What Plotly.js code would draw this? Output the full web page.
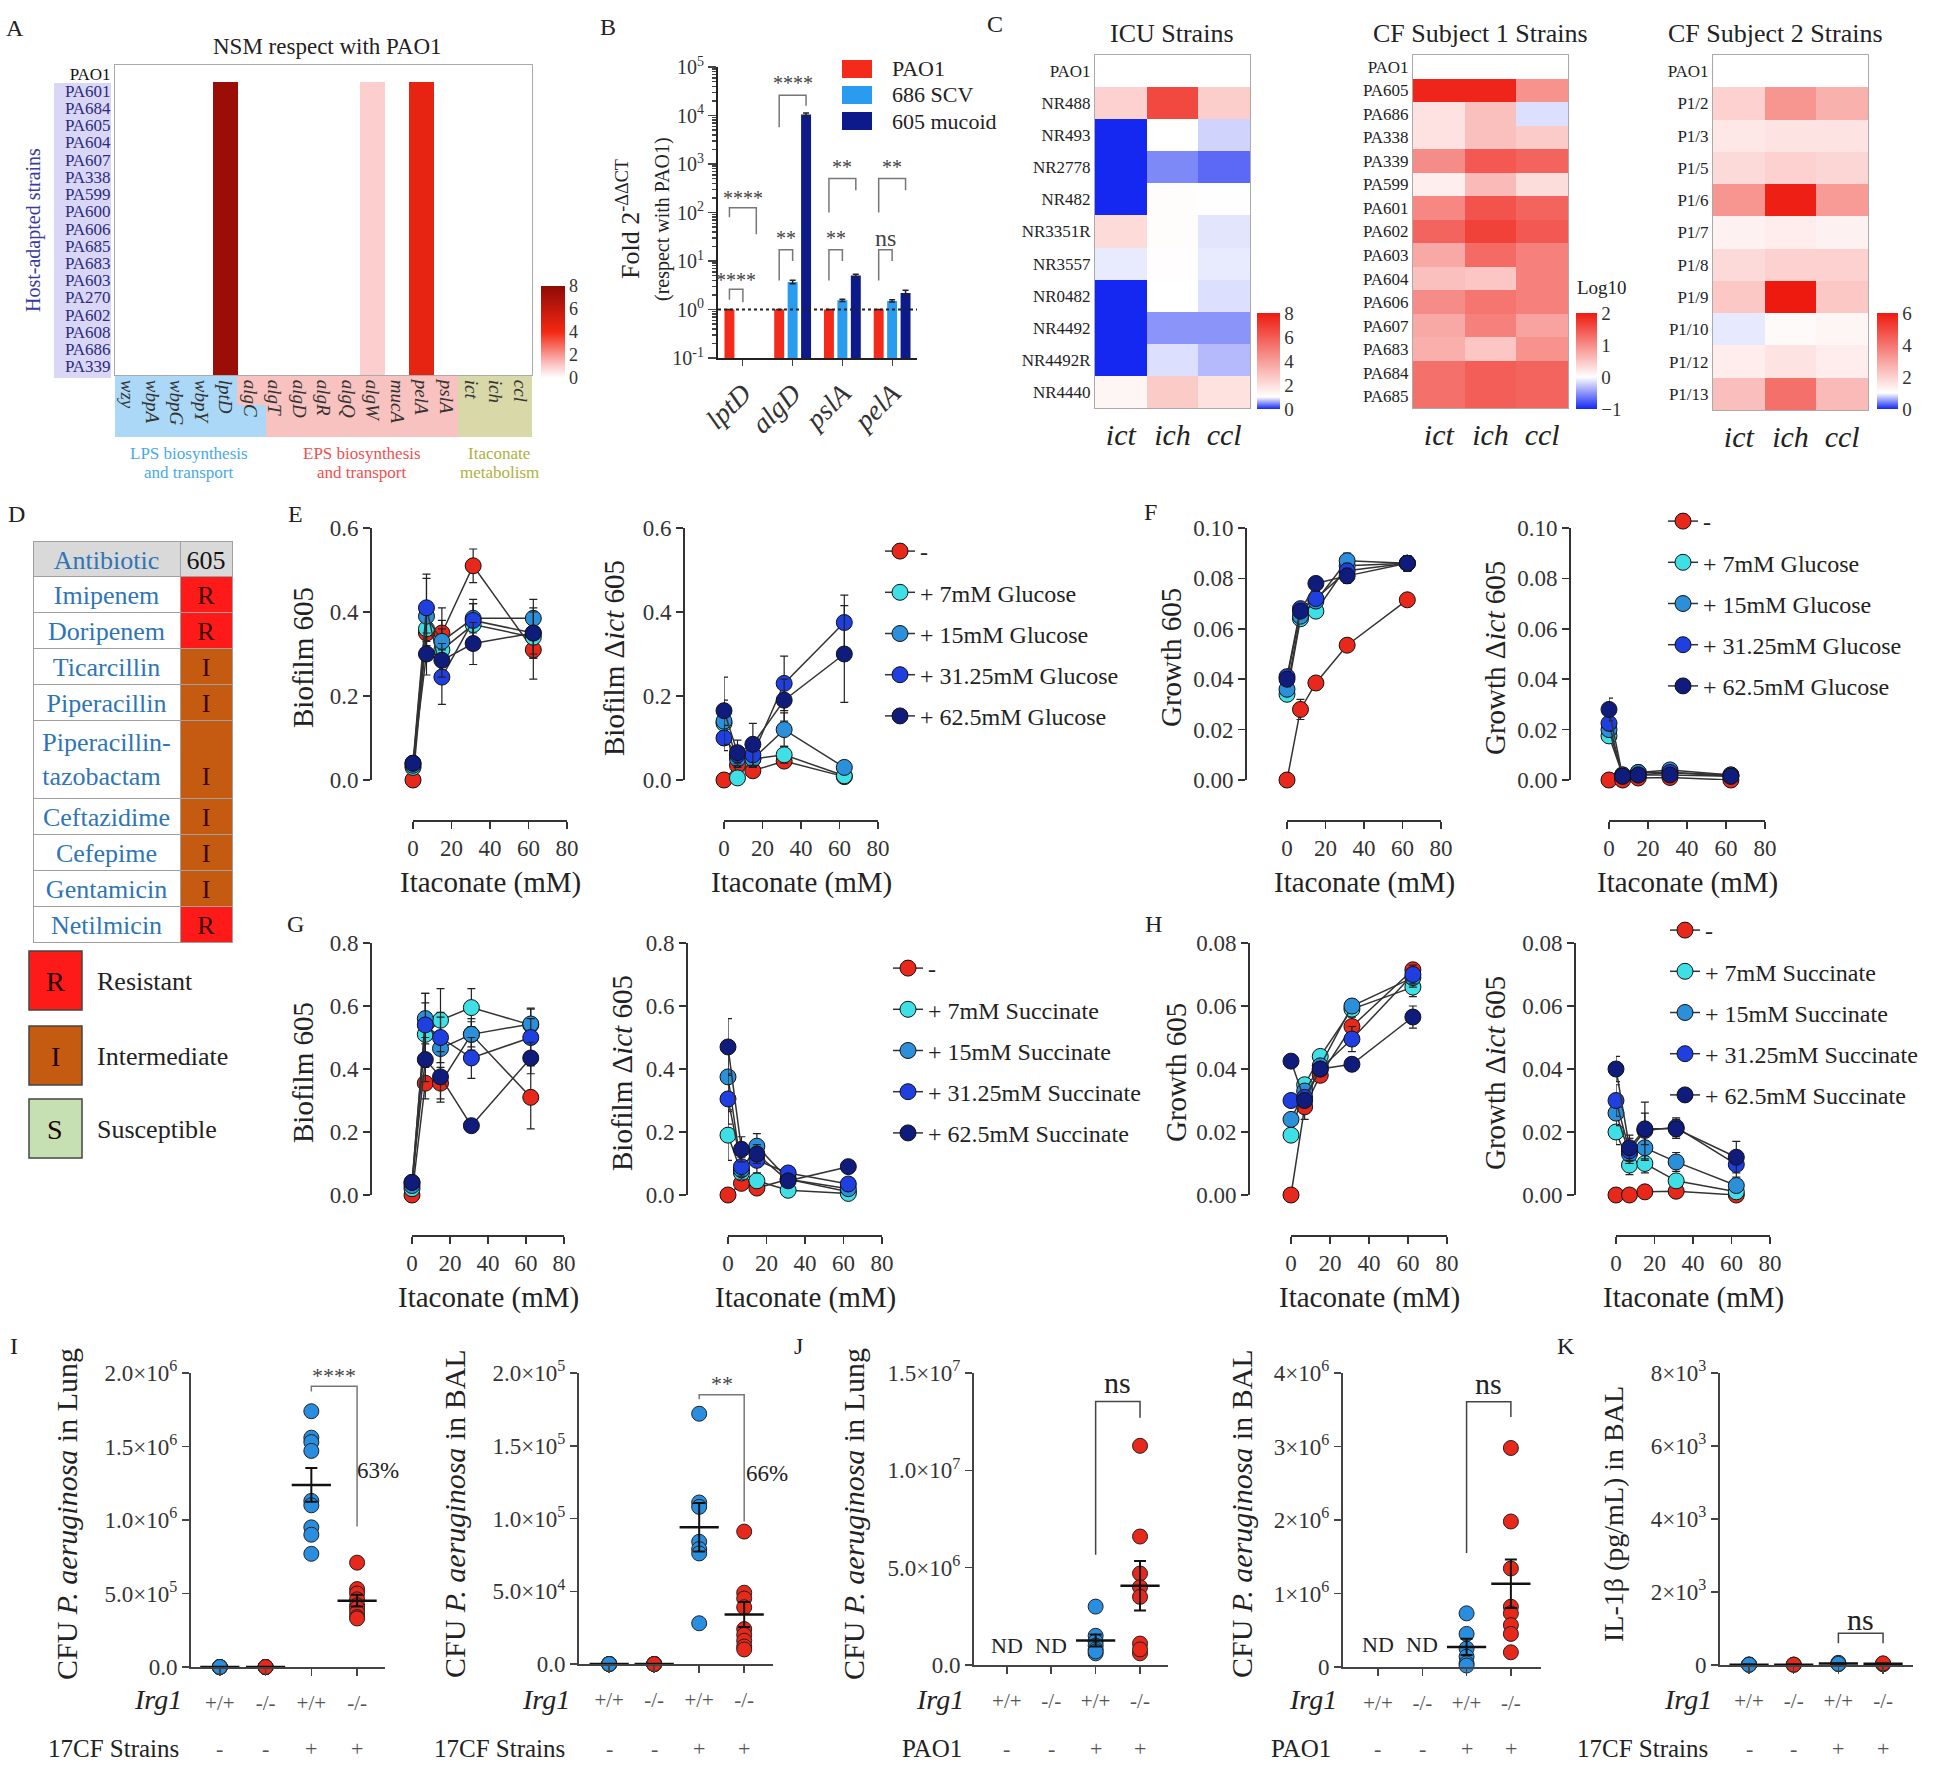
<!DOCTYPE html>
<html>
<head>
<meta charset="utf-8">
<title>Figure</title>
<script src="https://cdn.plot.ly/plotly-3.0.1.min.js"></script>
<style>
  body { margin: 0; background: #fff; }
  #fig { width: 1946px; height: 1769px; }
</style>
</head>
<body>
<div id="fig"></div>
<script>
// page is placed in pixels, converted to paper coords
var W = 1946, H = 1769;
var FONT = '"Liberation Serif", "Times New Roman", serif';
function fx(v) { return v / W; }
function fy(v) { return 1 - v / H; }

// ---------- A: NSM heatmap ----------
var aStrains = ['PAO1','PA601','PA684','PA605','PA604','PA607','PA338','PA599','PA600','PA606',
                'PA685','PA683','PA603','PA270','PA602','PA608','PA686','PA339'];
var aGenes = ['wzy','wbpA','wbpG','wbpY','lptD','algC','algT','algD','algR','algQ','algW',
              'mucA','pelA','pslA','ict','ich','ccl'];
var aNsm = [
  [0,0,0,0,0,  0,0,0,0,0,0,0,0,  0,0,0,0],
  [0,0,0,0,7.5,0,0,0,0,0,1,0,4.5,0,0,0,0],
  [0,0,0,0,7.5,0,0,0,0,0,1,0,4.5,0,0,0,0],
  [0,0,0,0,7.5,0,0,0,0,0,1,0,4.5,0,0,0,0],
  [0,0,0,0,7.5,0,0,0,0,0,1,0,4.5,0,0,0,0],
  [0,0,0,0,7.5,0,0,0,0,0,1,0,4.5,0,0,0,0],
  [0,0,0,0,7.5,0,0,0,0,0,1,0,4.5,0,0,0,0],
  [0,0,0,0,7.5,0,0,0,0,0,1,0,4.5,0,0,0,0],
  [0,0,0,0,7.5,0,0,0,0,0,1,0,4.5,0,0,0,0],
  [0,0,0,0,7.5,0,0,0,0,0,1,0,4.5,0,0,0,0],
  [0,0,0,0,7.5,0,0,0,0,0,1,0,4.5,0,0,0,0],
  [0,0,0,0,7.5,0,0,0,0,0,1,0,4.5,0,0,0,0],
  [0,0,0,0,7.5,0,0,0,0,0,1,0,4.5,0,0,0,0],
  [0,0,0,0,7.5,0,0,0,0,0,1,0,4.5,0,0,0,0],
  [0,0,0,0,7.5,0,0,0,0,0,1,0,4.5,0,0,0,0],
  [0,0,0,0,7.5,0,0,0,0,0,1,0,4.5,0,0,0,0],
  [0,0,0,0,7.5,0,0,0,0,0,1,0,4.5,0,0,0,0],
  [0,0,0,0,7.5,0,0,0,0,0,1,0,4.5,0,0,0,0]
];

// ---------- B: qPCR fold change ----------
var bGenes = ['lptD','algD','pslA','pelA'];
var bPAO1 = [1, 1, 1, 1];
var bSCV = [null, 3.7, 1.55, 1.5];
var bSCVErr = [0, 0.3, 0.08, 0.08];
var bMucoid = [null, 10500, 5.0, 2.2];
var bMucoidErr = [0, 700, 0.3, 0.3];

// ---------- C: itaconate genes ----------
var cGenes = ['ict','ich','ccl'];
var icuStrains = ['PAO1','NR488','NR493','NR2778','NR482','NR3351R','NR3557','NR0482','NR4492','NR4492R','NR4440'];
var icuIct = [1, 2.4, 0, 0, 0, 2.1, 0.9, 0, 0, 0, 1.3];
var icuIch = [1, 6.6, 1.0, 0.45, 1.1, 1.1, 1.05, 1.0, 0.5, 0.85, 2.6];
var icuCcl = [1, 2.5, 0.8, 0.3, 1.02, 0.88, 0.9, 0.85, 0.5, 0.68, 1.9];
var cf1Strains = ['PAO1','PA605','PA686','PA338','PA339','PA599','PA601','PA602','PA603','PA604','PA606','PA607','PA683','PA684','PA685'];
var cf1Ict = [0, 1.9, 0.25, 0.25, 1.0, 0.15, 1.05, 1.35, 0.75, 0.55, 1.0, 0.75, 0.7, 1.25, 1.25];
var cf1Ich = [0, 1.9, 0.55, 0.55, 1.45, 0.6, 1.5, 1.65, 1.3, 0.5, 1.2, 1.1, 0.5, 1.4, 1.4];
var cf1Ccl = [0, 0.95, -0.15, 0.45, 1.35, 0.3, 1.35, 1.45, 1.1, 1.1, 1.1, 0.8, 0.95, 1.35, 1.35];
var cf2Strains = ['PAO1','P1/2','P1/3','P1/5','P1/6','P1/7','P1/8','P1/9','P1/10','P1/12','P1/13'];
var cf2Ict = [1, 2.0, 1.5, 1.8, 3.3, 1.3, 1.8, 2.2, 0.9, 1.4, 2.4];
var cf2Ich = [1, 3.3, 1.6, 2.0, 5.9, 1.4, 2.0, 6.0, 1.1, 1.6, 4.1];
var cf2Ccl = [1, 2.7, 1.6, 1.9, 3.2, 1.3, 2.0, 2.2, 1.2, 1.4, 2.5];

// ---------- D: antibiotic table ----------
var abNames = ['Imipenem','Doripenem','Ticarcillin','Piperacillin','Piperacillin-<br>tazobactam',
               'Ceftazidime','Cefepime','Gentamicin','Netilmicin'];
var abCalls = ['R','R','I','I','I','I','I','I','R'];
var callLetters = ['R','I','S'];
var callNames = ['Resistant','Intermediate','Susceptible'];
var callColors = {R: '#ff1a1a', I: '#c55a11', S: '#c6e0b4'};

// ---------- E-H: itaconate dose series ----------
var itaconate = [0, 7, 15, 31.25, 62.5];
var glucoseNames = ['-', '+ 7mM Glucose', '+ 15mM Glucose', '+ 31.25mM Glucose', '+ 62.5mM Glucose'];
var succinateNames = ['-', '+ 7mM Succinate', '+ 15mM Succinate', '+ 31.25mM Succinate', '+ 62.5mM Succinate'];
var seriesColors = ['#e8281a', '#3ee0e6', '#2b90d9', '#1f3fe0', '#101c7c'];

var biofilm605Glc = [
  [0, 0.35, 0.35, 0.51, 0.31],
  [0.03, 0.36, 0.31, 0.37, 0.34],
  [0.035, 0.39, 0.33, 0.385, 0.385],
  [0.04, 0.41, 0.245, 0.38, 0.35],
  [0.04, 0.30, 0.285, 0.325, 0.35]];
var biofilm605GlcErr = [
  [0, 0.03, 0.03, 0.04, 0.07],
  [0.01, 0.06, 0.05, 0.05, 0.05],
  [0.01, 0.09, 0.08, 0.035, 0.045],
  [0.01, 0.08, 0.065, 0.05, 0.05],
  [0.01, 0.05, 0.04, 0.05, 0.06]];
var biofilmIctGlc = [
  [0, 0.035, 0.022, 0.045, 0.008],
  [0.135, 0.005, 0.05, 0.06, 0.01],
  [0.14, 0.05, 0.05, 0.12, 0.03],
  [0.10, 0.06, 0.06, 0.23, 0.375],
  [0.165, 0.065, 0.085, 0.19, 0.30]];
var biofilmIctGlcErr = [
  [0, 0.01, 0.01, 0.01, 0.005],
  [0.03, 0.005, 0.02, 0.02, 0.005],
  [0.05, 0.02, 0.02, 0.04, 0.01],
  [0.03, 0.02, 0.03, 0.065, 0.065],
  [0.08, 0.03, 0.05, 0.05, 0.115]];
var growth605Glc = [
  [0, 0.028, 0.0385, 0.0535, 0.0715],
  [0.034, 0.064, 0.067, 0.085, 0.086],
  [0.036, 0.065, 0.071, 0.087, 0.086],
  [0.041, 0.068, 0.072, 0.083, 0.086],
  [0.040, 0.067, 0.078, 0.081, 0.086]];
var growth605GlcErr = [
  [0, 0.004, 0.002, 0.002, 0.002],
  [0.002, 0.002, 0.002, 0.003, 0.003],
  [0.002, 0.002, 0.002, 0.003, 0.003],
  [0.003, 0.002, 0.002, 0.003, 0.003],
  [0.003, 0.002, 0.002, 0.003, 0.003]];
var growthIctGlc = [
  [0, 0, 0.0008, 0.001, 0],
  [0.0175, 0.002, 0.003, 0.003, 0.002],
  [0.020, 0.002, 0.003, 0.004, 0.002],
  [0.0225, 0.0015, 0.002, 0.003, 0.0015],
  [0.028, 0.0015, 0.002, 0.002, 0.0015]];
var growthIctGlcErr = [
  [0, 0, 0.0005, 0.0005, 0],
  [0.002, 0.0005, 0.0005, 0.001, 0.0005],
  [0.003, 0.0005, 0.0005, 0.001, 0.0005],
  [0.003, 0.0005, 0.0005, 0.001, 0.0005],
  [0.0045, 0.0005, 0.0005, 0.001, 0.0005]];
var biofilm605Suc = [
  [0, 0.355, 0.355, 0.51, 0.31],
  [0.02, 0.51, 0.555, 0.595, 0.54],
  [0.03, 0.56, 0.465, 0.51, 0.543],
  [0.04, 0.54, 0.50, 0.435, 0.50],
  [0.04, 0.43, 0.375, 0.22, 0.435]];
var biofilm605SucErr = [
  [0, 0.05, 0.05, 0.04, 0.1],
  [0.01, 0.1, 0.1, 0.06, 0.05],
  [0.01, 0.08, 0.1, 0.05, 0.05],
  [0.01, 0.1, 0.08, 0.065, 0.06],
  [0.01, 0.07, 0.08, 0.02, 0.05]];
var biofilmIctSuc = [
  [0, 0.037, 0.022, 0.05, 0.01],
  [0.19, 0.07, 0.045, 0.015, 0.005],
  [0.375, 0.08, 0.155, 0.05, 0.02],
  [0.305, 0.09, 0.11, 0.07, 0.035],
  [0.47, 0.145, 0.13, 0.045, 0.09]];
var biofilmIctSucErr = [
  [0, 0.01, 0.01, 0.01, 0.005],
  [0.08, 0.02, 0.02, 0.01, 0.005],
  [0.11, 0.03, 0.04, 0.02, 0.01],
  [0.08, 0.03, 0.04, 0.02, 0.02],
  [0.09, 0.04, 0.03, 0.02, 0.015]];
var growth605Suc = [
  [0, 0.028, 0.038, 0.0535, 0.0715],
  [0.019, 0.035, 0.044, 0.059, 0.066],
  [0.024, 0.033, 0.041, 0.060, 0.069],
  [0.030, 0.031, 0.040, 0.0495, 0.070],
  [0.0425, 0.030, 0.040, 0.0415, 0.0565]];
var growth605SucErr = [
  [0, 0.004, 0.002, 0.003, 0.002],
  [0.001, 0.002, 0.002, 0.002, 0.003],
  [0.001, 0.002, 0.002, 0.002, 0.003],
  [0.001, 0.002, 0.002, 0.004, 0.003],
  [0.001, 0.002, 0.002, 0.002, 0.0035]];
var growthIctSuc = [
  [0, 0, 0.001, 0.0012, 0],
  [0.020, 0.0095, 0.010, 0.0045, 0.001],
  [0.026, 0.013, 0.015, 0.0105, 0.003],
  [0.030, 0.014, 0.0205, 0.0215, 0.0097],
  [0.040, 0.015, 0.021, 0.021, 0.012]];
var growthIctSucErr = [
  [0, 0, 0.0005, 0.0005, 0],
  [0.004, 0.003, 0.003, 0.002, 0.001],
  [0.004, 0.003, 0.004, 0.003, 0.001],
  [0.005, 0.004, 0.009, 0.003, 0.004],
  [0.004, 0.004, 0.005, 0.003, 0.005]];

// ---------- I-K: in vivo dot plots ----------
var irg1 = ['+/+', '-/-', '+/+', '-/-'];
var infected = ['-', '-', '+', '+'];
var dotColors = ['#2a8ee0', '#e8281a', '#2a8ee0', '#e8281a'];
var lungCF = [[0, 0, 0, 0, 0], [0, 0, 0, 0, 0],
  [1.74e6, 1.56e6, 1.53e6, 1.47e6, 1.13e6, 1.10e6, 0.95e6, 0.90e6, 0.77e6],
  [0.71e6, 0.53e6, 0.50e6, 0.46e6, 0.42e6, 0.40e6, 0.37e6, 0.34e6, 0.33e6]];
var balCF = [[0, 0, 0, 0, 0], [0, 0, 0, 0, 0],
  [1.72e5, 1.11e5, 1.08e5, 0.84e5, 0.79e5, 0.76e5, 0.28e5],
  [0.91e5, 0.49e5, 0.45e5, 0.39e5, 0.24e5, 0.20e5, 0.16e5, 0.12e5, 0.10e5]];
var lungPAO1 = [[], [],
  [3.0e6, 1.5e6, 1.2e6, 1.0e6, 0.8e6, 0.6e6, 0.7e6],
  [11.26e6, 6.6e6, 4.7e6, 4.0e6, 3.5e6, 1.1e6, 0.6e6, 0.8e6]];
var balPAO1 = [[], [],
  [0.73e6, 0.45e6, 0.25e6, 0.14e6, 0.05e6, 0.02e6],
  [2.98e6, 1.98e6, 1.34e6, 0.82e6, 0.73e6, 0.57e6, 0.45e6, 0.2e6]];
var il1bCF = [[10, 5, 15, 8], [12, 6, 9], [40, 25, 60, 30], [35, 20, 45]];

// ================= build figure =================
var data = [];
var shapes = [];
var annotations = [];
var layout = {
  width: W, height: H, margin: {l: 0, r: 0, t: 0, b: 0},
  paper_bgcolor: '#fff', plot_bgcolor: 'rgba(0,0,0,0)',
  font: {family: FONT, size: 18, color: '#222'},
  showlegend: true, barmode: 'group', bargap: 0.19, bargroupgap: 0.26
};

function axKey(c, n) { return c + 'axis' + (n === 1 ? '' : n); }
function axRef(c, n) { return c + (n === 1 ? '' : n); }

function txt(text, x, y, size, o) {
  o = o || {};
  annotations.push({
    text: text, x: fx(x), y: fy(y), xref: 'paper', yref: 'paper', showarrow: false,
    font: {family: FONT, size: size, color: o.color || '#222', style: o.style || 'normal'},
    xanchor: o.xanchor || 'center', yanchor: 'middle', textangle: o.angle || 0
  });
}
function rect(x0, y0, x1, y1, fill, border) {
  shapes.push({type: 'rect', xref: 'paper', yref: 'paper', layer: 'below',
    x0: fx(x0), x1: fx(x1), y0: fy(y1), y1: fy(y0), fillcolor: fill,
    line: {width: border ? 1.5 : 0, color: border || fill}});
}
function bracket(n, xa, xb, yl, ytop, yr, color) {
  shapes.push({type: 'path', xref: axRef('x', n), yref: axRef('y', n),
    path: 'M' + xa + ',' + yl + ' L' + xa + ',' + ytop + ' L' + xb + ',' + ytop + ' L' + xb + ',' + yr,
    line: {color: color || '#444', width: 1.5}});
}
function dataTxt(text, n, x, y, size, color) {
  annotations.push({text: text, x: x, y: y, xref: axRef('x', n), yref: axRef('y', n), showarrow: false,
    font: {family: FONT, size: size, color: color || '#222'}, xanchor: 'center', yanchor: 'middle'});
}

// ---- panel letters ----
[['A', 15, 28], ['B', 608, 27], ['C', 995, 24], ['D', 16, 514], ['E', 295, 514], ['F', 1150, 512],
 ['G', 295, 924], ['H', 1153, 924], ['I', 14, 1346], ['J', 798, 1346], ['K', 1566, 1346]]
  .forEach(function (p) { txt(p[0], p[1], p[2], 24); });

// ---- A ----
data.push({
  type: 'heatmap', x: aGenes, y: aStrains, z: aNsm, xaxis: 'x', yaxis: 'y', zmin: 0, zmax: 8,
  colorscale: [[0, '#ffffff'], [0.15, '#fbc4c4'], [0.5, '#f42812'], [1, '#8e0a06']],
  hoverinfo: 'skip',
  colorbar: {x: fx(541), xanchor: 'left', y: fy(378), yanchor: 'bottom', len: 92, lenmode: 'pixels',
    thickness: 24, xpad: 0, ypad: 0, outlinewidth: 0, tickvals: [0, 2, 4, 6, 8], ticks: '',
    tickfont: {family: FONT, size: 18, color: '#333'}}
});
layout.xaxis = {domain: [fx(115), fx(532)], anchor: 'y', tickangle: 90, ticks: '',
  tickfont: {family: FONT, size: 19, style: 'italic', color: '#333'},
  showline: true, mirror: true, linecolor: '#aaa', showgrid: false, zeroline: false};
layout.yaxis = {domain: [fy(375), fy(65)], anchor: 'x', autorange: 'reversed', ticks: '',
  tickmode: 'array', tickvals: aStrains,
  ticktext: aStrains.map(function (s) { return s === 'PAO1' ? s : '<span style="color:#2c2c7a">' + s + '</span>'; }),
  tickfont: {family: FONT, size: 17, color: '#111'},
  showline: true, mirror: true, linecolor: '#aaa', showgrid: false, zeroline: false};
rect(54, 83, 111, 378, '#d9d6f6');
rect(115, 376, 266, 437, '#aad8f6');
rect(266, 376, 458, 437, '#f8c2c0');
rect(237, 376, 266, 405, '#f8c2c0');
rect(458, 376, 532, 437, '#d9d8a8');
txt('NSM respect with PAO1', 327, 47, 23);
txt('Host-adapted strains', 34, 230, 20, {angle: -90, color: '#3a3aa0'});
txt('LPS biosynthesis', 189, 453, 17, {color: '#4aa8e8'});
txt('and transport', 189, 473, 17, {color: '#4aa8e8'});
txt('EPS biosynthesis', 362, 453, 17, {color: '#f05050'});
txt('and transport', 362, 473, 17, {color: '#f05050'});
txt('Itaconate', 499, 453, 17, {color: '#b0b040'});
txt('metabolism', 499, 473, 17, {color: '#b0b040'});

// ---- B ----
var bSeries = [
  {name: 'PAO1', y: bPAO1, err: [0, 0, 0, 0], color: '#f42a1a'},
  {name: '686 SCV', y: bSCV, err: bSCVErr, color: '#2a9cf0'},
  {name: '605 mucoid', y: bMucoid, err: bMucoidErr, color: '#0c1a8c'}
];
bSeries.forEach(function (s) {
  data.push({type: 'bar', x: [0, 1, 2, 3], y: s.y, name: s.name, xaxis: 'x2', yaxis: 'y2',
    marker: {color: s.color}, showlegend: false, hoverinfo: 'skip',
    error_y: {type: 'data', array: s.err, color: '#222', thickness: 1.5, width: 3}});
});
var bMinor = [];
for (var d = -1; d < 5; d++) for (var k = 2; k < 10; k++) bMinor.push(k * Math.pow(10, d));
layout.xaxis2 = {domain: [fx(718), fx(917)], anchor: 'y2', range: [-0.5, 3.5],
  tickvals: [0, 1, 2, 3], ticktext: bGenes, tickangle: -45, ticks: 'outside', ticklen: 6,
  tickfont: {family: FONT, size: 28, style: 'italic', color: '#333'},
  showline: true, linecolor: '#222', linewidth: 2, showgrid: false, zeroline: false};
layout.yaxis2 = {domain: [fy(358), fy(67)], anchor: 'x2', type: 'log', range: [-1, 5],
  tickvals: [0.1, 1, 10, 100, 1000, 10000, 100000],
  ticktext: ['10<sup>-1</sup>', '10<sup>0</sup>', '10<sup>1</sup>', '10<sup>2</sup>', '10<sup>3</sup>', '10<sup>4</sup>', '10<sup>5</sup>'],
  ticks: 'outside', ticklen: 8, tickwidth: 1.5,
  minor: {tickmode: 'array', tickvals: bMinor, ticks: 'outside', ticklen: 4, tickcolor: '#444'},
  tickfont: {family: FONT, size: 20, color: '#333'},
  showline: true, linecolor: '#222', linewidth: 2, showgrid: false, zeroline: false};
shapes.push({type: 'line', xref: 'x2 domain', x0: 0, x1: 1, yref: 'y2', y0: 1, y1: 1,
  line: {color: '#222', width: 2, dash: 'dot'}});
// significance brackets (shape y in data units, text y in log10 units)
function p10(v) { return Math.pow(10, v); }
[0, 1, 2, 3].forEach(function (g) {
  var up = g === 0 ? [1.9, 2.1, 1.55, 2.3] : g === 1 ? [3.76, 4.42, 4.2, 4.67] : [2.0, 2.7, 2.46, 2.94];
  var lo = g === 0 ? [0.2, 0.42, 0.15, 0.6] : [0.6, 1.23, 1.0, 1.47];
  bracket(2, g - 0.27, g + 0.27, p10(up[0]), p10(up[1]), p10(up[2]), '#777');
  dataTxt(g < 2 ? '****' : '**', 2, g, up[3], 20, '#444');
  bracket(2, g - 0.27, g, p10(lo[0]), p10(lo[1]), p10(lo[2]), '#777');
  dataTxt(g === 0 ? '****' : g === 3 ? 'ns' : '**', 2, g - 0.13, lo[3], g === 3 ? 24 : 20, '#444');
});
bSeries.forEach(function (s, i) {
  var yc = 69 + i * 26;
  shapes.push({type: 'rect', xref: 'paper', yref: 'paper', x0: fx(842), x1: fx(872),
    y0: fy(yc + 9), y1: fy(yc - 9), fillcolor: s.color, line: {width: 0}});
  txt(s.name, 890, yc, 22, {xanchor: 'left'});
});
txt('Fold 2<sup>-ΔΔCT</sup>', 628, 219, 26, {angle: -90});
txt('(respect with PAO1)', 662, 219, 20, {angle: -90});

// ---- C ----
function cHeat(n, strains, cols, zmin, zmax, scale, dom, cb) {
  data.push({type: 'heatmap', x: cGenes, y: strains, xaxis: axRef('x', n), yaxis: axRef('y', n),
    z: strains.map(function (s, i) { return [cols[0][i], cols[1][i], cols[2][i]]; }),
    zmin: zmin, zmax: zmax, colorscale: scale, hoverinfo: 'skip',
    colorbar: {x: fx(cb[0]), xanchor: 'left', y: fy(409), yanchor: 'bottom', len: 96, lenmode: 'pixels',
      thickness: cb[1], xpad: 0, ypad: 0, outlinewidth: 0, tickvals: cb[2], ticks: '',
      tickfont: {family: FONT, size: 19, color: '#333'}}});
  layout[axKey('x', n)] = {domain: [fx(dom[0]), fx(dom[1])], anchor: axRef('y', n), ticks: '',
    tickfont: {family: FONT, size: 30, style: 'italic', color: '#222'},
    showline: true, mirror: true, linecolor: '#aaa', showgrid: false, zeroline: false};
  layout[axKey('y', n)] = {domain: [fy(dom[3]), fy(dom[2])], anchor: axRef('x', n), autorange: 'reversed',
    ticks: '', tickfont: {family: FONT, size: 17, color: '#222'},
    showline: true, mirror: true, linecolor: '#aaa', showgrid: false, zeroline: false};
}
cHeat(3, icuStrains, [icuIct, icuIch, icuCcl], 0, 8,
  [[0, '#1428f2'], [0.125, '#ffffff'], [1, '#ee1a10']], [1095, 1250, 55, 408], [1257, 23, [0, 2, 4, 6, 8]]);
cHeat(4, cf1Strains, [cf1Ict, cf1Ich, cf1Ccl], -1, 2,
  [[0, '#1428f2'], [0.3333, '#ffffff'], [1, '#ee1a10']], [1413, 1568, 55, 408], [1576, 21, [-1, 0, 1, 2]]);
cHeat(5, cf2Strains, [cf2Ict, cf2Ich, cf2Ccl], 0, 6,
  [[0, '#1428f2'], [0.1667, '#ffffff'], [1, '#ee1a10']], [1713, 1868, 55, 410], [1877, 21, [0, 2, 4, 6]]);
txt('ICU Strains', 1172, 33, 26);
txt('CF Subject 1 Strains', 1480, 33, 26);
txt('CF Subject 2 Strains', 1775, 33, 26);
txt('Log10', 1602, 287, 19);

// ---- D ----
data.push({
  type: 'table', domain: {x: [fx(33), fx(232)], y: [fy(950), fy(541)]}, columnwidth: [147, 52],
  header: {values: ['Antibiotic', '605'], height: 35, align: 'center',
    fill: {color: '#d9d9d9'}, line: {color: '#a0a0a0', width: 1},
    font: {family: FONT, size: 26, color: ['#2e75b6', '#111']}},
  cells: {values: [abNames, abCalls.map(function (c, i) { return abNames[i].indexOf('<br>') >= 0 ? '\u00a0<br>' + c : c; })],
    height: 36, align: 'center', line: {color: '#a0a0a0', width: 1},
    fill: {color: [abNames.map(function () { return '#ffffff'; }), abCalls.map(function (c) { return callColors[c]; })]},
    font: {family: FONT, size: 26, color: ['#2e75b6', '#3a0800']}}
});
callLetters.forEach(function (c, i) {
  var y0 = [951, 1026, 1099][i];
  rect(29, y0, 82, y0 + 59, callColors[c], '#444');
  txt(c, 55, y0 + 30, 28, {color: '#220000'});
  txt(callNames[i], 95, y0 + 30, 26, {xanchor: 'left'});
});

// ---- E-H ----
function linePanel(n, c) {
  layout[axKey('x', n)] = {domain: [fx(c.x0), fx(c.x80)], range: [0, 80], anchor: 'free', position: fy(c.xLine),
    tickvals: [0, 20, 40, 60, 80], ticks: 'outside', ticklen: 7, tickwidth: 1.5, tickcolor: '#333',
    tickfont: {family: FONT, size: 23, color: '#333'},
    showline: true, linecolor: '#333', linewidth: 1.5, showgrid: false, zeroline: false};
  layout[axKey('y', n)] = {domain: [fy(c.yb), fy(c.yt)], range: [0, c.ymax], anchor: 'free', position: fx(c.yLine),
    dtick: c.dtick, tickformat: c.fmt, ticks: 'outside', ticklen: 7, tickwidth: 1.5, tickcolor: '#333',
    tickfont: {family: FONT, size: 23, color: '#333'},
    showline: true, linecolor: '#333', linewidth: 1.5, showgrid: false, zeroline: false};
  c.vals.forEach(function (v, s) {
    data.push({type: 'scatter', mode: 'lines+markers', x: itaconate, y: v, name: c.names[s],
      xaxis: axRef('x', n), yaxis: axRef('y', n), cliponaxis: false, hoverinfo: 'skip',
      showlegend: !!c.legend, legend: c.legend || 'legend', legendgroup: (c.legend || 'l') + s,
      line: {color: '#333', width: 1.5},
      marker: {size: 16, color: seriesColors[s], line: {color: '#111', width: 1}},
      error_y: {type: 'data', array: c.errs[s], color: '#222', thickness: 1.2, width: 4}});
  });
  txt(c.ytitle, c.ytx, (c.yb + c.yt) / 2 + 4, 29, {angle: -90});
  txt('Itaconate (mM)', (c.x0 + c.x80) / 2, c.xLine + 62, 29);
}
linePanel(6, {x0: 413, x80: 567, xLine: 820, yb: 780, yt: 528, yLine: 370, ymax: 0.6, dtick: 0.2, fmt: '.1f',
  vals: biofilm605Glc, errs: biofilm605GlcErr, names: glucoseNames, legend: 'legend',
  ytitle: 'Biofilm 605', ytx: 303});
linePanel(7, {x0: 724, x80: 878, xLine: 820, yb: 780, yt: 528, yLine: 683, ymax: 0.6, dtick: 0.2, fmt: '.1f',
  vals: biofilmIctGlc, errs: biofilmIctGlcErr, names: glucoseNames,
  ytitle: 'Biofilm Δ<i>ict</i> 605', ytx: 614});
linePanel(8, {x0: 1287, x80: 1441, xLine: 820, yb: 780, yt: 528, yLine: 1245, ymax: 0.1, dtick: 0.02, fmt: '.2f',
  vals: growth605Glc, errs: growth605GlcErr, names: glucoseNames, legend: 'legend2',
  ytitle: 'Growth 605', ytx: 1171});
linePanel(9, {x0: 1609, x80: 1765, xLine: 820, yb: 780, yt: 528, yLine: 1569, ymax: 0.1, dtick: 0.02, fmt: '.2f',
  vals: growthIctGlc, errs: growthIctGlcErr, names: glucoseNames,
  ytitle: 'Growth Δ<i>ict</i> 605', ytx: 1495});
linePanel(10, {x0: 412, x80: 564, xLine: 1235, yb: 1195, yt: 943, yLine: 370, ymax: 0.8, dtick: 0.2, fmt: '.1f',
  vals: biofilm605Suc, errs: biofilm605SucErr, names: succinateNames, legend: 'legend3',
  ytitle: 'Biofilm 605', ytx: 303});
linePanel(11, {x0: 728, x80: 882, xLine: 1235, yb: 1195, yt: 943, yLine: 686, ymax: 0.8, dtick: 0.2, fmt: '.1f',
  vals: biofilmIctSuc, errs: biofilmIctSucErr, names: succinateNames,
  ytitle: 'Biofilm Δ<i>ict</i> 605', ytx: 622});
linePanel(12, {x0: 1291, x80: 1447, xLine: 1235, yb: 1195, yt: 943, yLine: 1248, ymax: 0.08, dtick: 0.02, fmt: '.2f',
  vals: growth605Suc, errs: growth605SucErr, names: succinateNames, legend: 'legend4',
  ytitle: 'Growth 605', ytx: 1176});
linePanel(13, {x0: 1616, x80: 1770, xLine: 1235, yb: 1195, yt: 943, yLine: 1574, ymax: 0.08, dtick: 0.02, fmt: '.2f',
  vals: growthIctSuc, errs: growthIctSucErr, names: succinateNames,
  ytitle: 'Growth Δ<i>ict</i> 605', ytx: 1495});

function legendAt(x, y) {
  return {x: fx(x), y: fy(y), xanchor: 'left', yanchor: 'top', bgcolor: 'rgba(0,0,0,0)',
    font: {family: FONT, size: 24, color: '#222'}, tracegroupgap: 7, itemwidth: 30};
}
layout.legend = legendAt(880, 529);
layout.legend2 = legendAt(1663, 499);
layout.legend3 = legendAt(888, 946);
layout.legend4 = legendAt(1665, 908);

// ---- I-K ----
function mean(a) { return a.reduce(function (s, v) { return s + v; }, 0) / a.length; }
function sem(a) {
  var m = mean(a);
  var v = a.reduce(function (s, x) { return s + (x - m) * (x - m); }, 0) / (a.length - 1);
  return Math.sqrt(v / a.length);
}
function dotPanel(n, c) {
  layout[axKey('x', n)] = {domain: [fx(c.x0), fx(c.x1)], range: c.xr, anchor: axRef('y', n),
    tickvals: [0, 1, 2, 3], ticktext: irg1, ticks: 'outside', ticklen: 7, tickwidth: 1.5, tickcolor: '#444',
    ticklabelstandoff: 9, tickfont: {family: FONT, size: 21, color: '#555'},
    showline: true, linecolor: '#444', linewidth: 2, showgrid: false, zeroline: false};
  layout[axKey('y', n)] = {domain: [fy(c.yb), fy(c.yt)], range: [0, c.ymax], anchor: axRef('x', n),
    tickvals: c.tickvals, ticktext: c.ticktext, ticks: 'outside', ticklen: 7, tickwidth: 1.5, tickcolor: '#444',
    tickfont: {family: FONT, size: 23, color: '#333'},
    showline: true, linecolor: '#444', linewidth: 2, showgrid: false, zeroline: false};
  c.groups.forEach(function (g, i) {
    if (!g.length) return;
    data.push({type: 'scatter', mode: 'markers', x: g.map(function () { return i; }), y: g,
      xaxis: axRef('x', n), yaxis: axRef('y', n), cliponaxis: false, showlegend: false, hoverinfo: 'skip',
      marker: {size: 15, color: dotColors[i], line: {color: '#222', width: 1}}});
    data.push({type: 'scatter', mode: 'markers', x: [i], y: [mean(g)],
      xaxis: axRef('x', n), yaxis: axRef('y', n), cliponaxis: false, showlegend: false, hoverinfo: 'skip',
      marker: {symbol: 'line-ew', size: 28, color: '#111', line: {color: '#111', width: 2.5}},
      error_y: {type: 'data', array: [sem(g)], color: '#111', thickness: 2, width: 6}});
  });
  txt('Irg1', c.irgX, 1699, 28, {style: 'italic'});
  txt(c.rowLabel, c.rowX, 1748, 25);
  infected.forEach(function (s, i) {
    annotations.push({text: s, x: i, y: fy(1748), xref: axRef('x', n), yref: 'paper', showarrow: false,
      font: {family: FONT, size: 22, color: '#555'}, xanchor: 'center', yanchor: 'middle'});
  });
  txt(c.ytitle, c.ytx, 1514, c.ysize || 30, {angle: -90});
}
dotPanel(14, {x0: 191, x1: 385, xr: [-0.63, 3.61], yb: 1667, yt: 1373, ymax: 2e6,
  tickvals: [0, 5e5, 1e6, 1.5e6, 2e6],
  ticktext: ['0.0', '5.0×10<sup>5</sup>', '1.0×10<sup>6</sup>', '1.5×10<sup>6</sup>', '2.0×10<sup>6</sup>'],
  groups: lungCF, irgX: 158, rowLabel: '17CF Strains', rowX: 113,
  ytitle: 'CFU <i>P. aeruginosa</i> in Lung', ytx: 66});
dotPanel(15, {x0: 579, x1: 773, xr: [-0.67, 3.64], yb: 1664, yt: 1373, ymax: 2e5,
  tickvals: [0, 5e4, 1e5, 1.5e5, 2e5],
  ticktext: ['0.0', '5.0×10<sup>4</sup>', '1.0×10<sup>5</sup>', '1.5×10<sup>5</sup>', '2.0×10<sup>5</sup>'],
  groups: balCF, irgX: 546, rowLabel: '17CF Strains', rowX: 499,
  ytitle: 'CFU <i>P. aeruginosa</i> in BAL', ytx: 454});
dotPanel(16, {x0: 974, x1: 1168, xr: [-0.74, 3.63], yb: 1665, yt: 1373, ymax: 1.5e7,
  tickvals: [0, 5e6, 1e7, 1.5e7],
  ticktext: ['0.0', '5.0×10<sup>6</sup>', '1.0×10<sup>7</sup>', '1.5×10<sup>7</sup>'],
  groups: lungPAO1, irgX: 940, rowLabel: 'PAO1', rowX: 932,
  ytitle: 'CFU <i>P. aeruginosa</i> in Lung', ytx: 853});
dotPanel(17, {x0: 1343, x1: 1541, xr: [-0.79, 3.68], yb: 1667, yt: 1373, ymax: 4e6,
  tickvals: [0, 1e6, 2e6, 3e6, 4e6],
  ticktext: ['0', '1×10<sup>6</sup>', '2×10<sup>6</sup>', '3×10<sup>6</sup>', '4×10<sup>6</sup>'],
  groups: balPAO1, irgX: 1313, rowLabel: 'PAO1', rowX: 1301,
  ytitle: 'CFU <i>P. aeruginosa</i> in BAL', ytx: 1241});
dotPanel(18, {x0: 1720, x1: 1913, xr: [-0.65, 3.67], yb: 1665, yt: 1373, ymax: 8000,
  tickvals: [0, 2000, 4000, 6000, 8000],
  ticktext: ['0', '2×10<sup>3</sup>', '4×10<sup>3</sup>', '6×10<sup>3</sup>', '8×10<sup>3</sup>'],
  groups: il1bCF, irgX: 1688, rowLabel: '17CF Strains', rowX: 1642,
  ytitle: 'IL-1β (pg/mL) in BAL', ytx: 1613, ysize: 28});

// significance marks
bracket(14, 2, 3, 1.875e6, 1.91e6, 0.955e6, '#777');
dataTxt('****', 14, 2.5, 1.98e6, 22, '#444');
dataTxt('63%', 14, 3.45, 1.34e6, 23);
bracket(15, 2, 3, 1.82e5, 1.85e5, 0.98e5, '#777');
dataTxt('**', 15, 2.5, 1.93e5, 22, '#444');
dataTxt('66%', 15, 3.5, 1.31e5, 23);
bracket(16, 2, 3, 5.66e6, 1.354e7, 1.27e7, '#444');
dataTxt('ns', 16, 2.5, 1.45e7, 30);
[0, 1].forEach(function (i) {
  dataTxt('ND', 16, i, 0.1e7, 22);
  dataTxt('ND', 17, i, 0.3e6, 22);
});
bracket(17, 2, 3, 1.55e6, 3.61e6, 3.4e6, '#444');
dataTxt('ns', 17, 2.5, 3.86e6, 30);
bracket(18, 2, 3, 594, 869, 594, '#444');
dataTxt('ns', 18, 2.5, 1234, 30);

layout.shapes = shapes;
layout.annotations = annotations;

Plotly.newPlot('fig', data, layout, {staticPlot: true, displayModeBar: false});
</script>
</body>
</html>
